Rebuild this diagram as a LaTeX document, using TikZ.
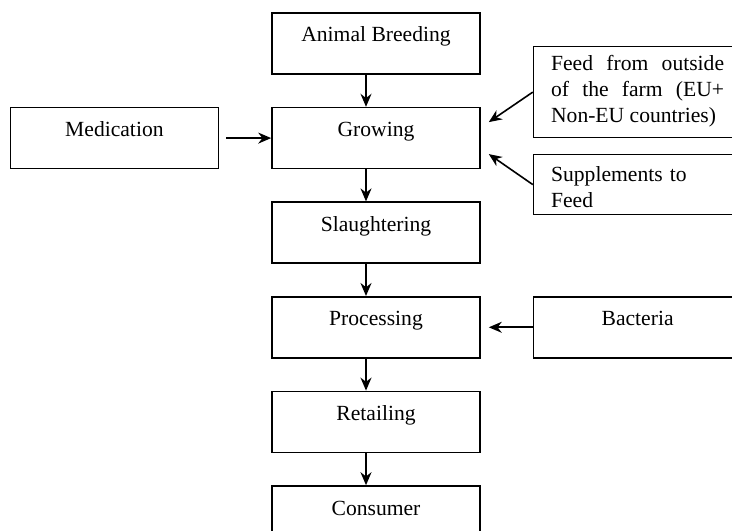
\documentclass[tikz,border=0pt]{standalone}
\usepackage{fontspec}
\setmainfont{Liberation Serif}
\usetikzlibrary{positioning}
\usetikzlibrary{calc}
\usetikzlibrary{arrows.meta}

\begin{document}
\begin{tikzpicture}[
	stage/.style={draw, line width=0.8pt, minimum width=104pt, inner ysep=0pt, text height=14.5pt, text depth=16pt, font=\fontsize{10.8}{13}\selectfont},
	input/.style={draw, line width=0.8pt, text width=86.5pt, inner xsep=8.75pt, inner ysep=0pt, font=\fontsize{10.8}{13}\selectfont},
	flow/.style={line width=0.8pt, -{Stealth[length=6.5pt,width=5.5pt]}}
]
%	\draw[help lines](0,0) grid (366pt,265pt);

	\useasboundingbox (0,0) rectangle (366pt,265pt);
	\clip (0,0) rectangle (366pt,265pt);

	%%%% Main chain %%%%

	\node[stage] (S1) at (188pt,243.25pt) {Animal Breeding};
	\node[stage, below=16pt of S1] (S2) {Growing};
	\node[stage, below=16pt of S2] (S3) {Slaughtering};
	\node[stage, below=16pt of S3] (S4) {Processing};
	\node[stage, below=16pt of S4] (S5) {Retailing};
	\node[stage, below=16pt of S5] (S6) {Consumer};

	\path[flow] ([xshift=-5pt]S1.south) edge ([xshift=-5pt]S2.north);
	\path[flow] ([xshift=-5pt]S2.south) edge ([xshift=-5pt]S3.north);
	\path[flow] ([xshift=-5pt]S3.south) edge ([xshift=-5pt]S4.north);
	\path[flow] ([xshift=-5pt]S4.south) edge ([xshift=-5pt]S5.north);
	\path[flow] ([xshift=-5pt]S5.south) edge ([xshift=-5pt]S6.north);

	%%% Inputs %%%

	\node[stage, left=26pt of S2] (I1) {Medication};

	\node[input, align=justify, text height=12pt, text depth=33.5pt, anchor=north west] (I2) at ($(S2.north east)+(26pt,30.5pt)$) {Feed from outside of the farm (EU+ Non-EU countries)};

	\node[input, align=left, text height=13.5pt, text depth=16.5pt, anchor=north west] (I3) at ($(S2.north east)+(26pt,-23.5pt)$) {Supplements to Feed};

	\node[stage, right=26pt of S4] (I4) {Bacteria};

	\path[flow] ([xshift=3.5pt]I1.east) edge (S2.west);
	\path[flow] (I2.west) edge ([xshift=4pt,yshift=8pt]S2.east);
	\path[flow] (I3.west) edge ([xshift=4pt,yshift=-8pt]S2.east);
	\path[flow] (I4.west) edge ([xshift=4pt]S4.east);

\end{tikzpicture}
\end{document}
